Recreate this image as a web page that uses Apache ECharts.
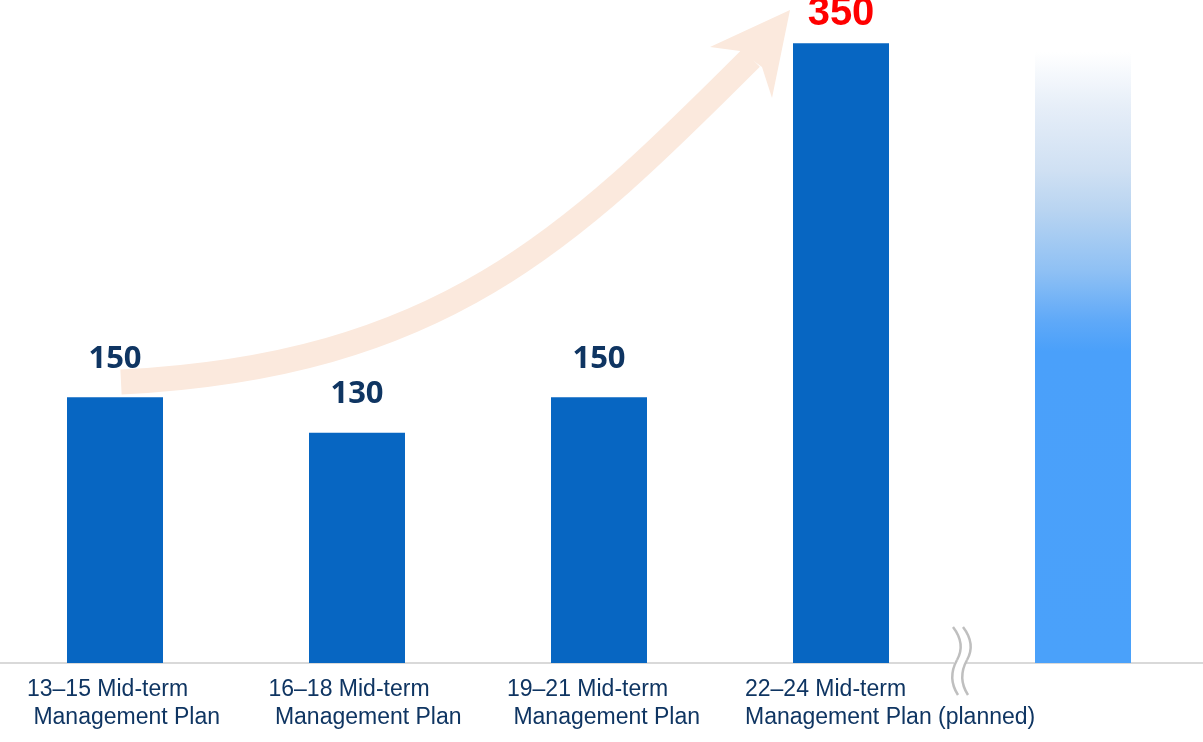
<!DOCTYPE html>
<html>
<head>
<meta charset="utf-8">
<script src="https://cdn.jsdelivr.net/npm/echarts@6/dist/echarts.min.js"></script>
<style>
html,body{margin:0;padding:0;background:#fff;}
#chart{width:1203px;height:742px;}
</style>
</head>
<body>
<div id="chart"></div>
<script>
// ---- data ----
var categories = [
  '13–15 Mid-term\n Management Plan',
  '16–18 Mid-term\n Management Plan',
  '19–21 Mid-term\n Management Plan',
  '22–24 Mid-term\nManagement Plan (planned)',
  ''
];
var planValues = [150, 130, 150, 350];
var futureValue = 345;           // faded bar beyond the axis break
var labelBoxWidths = [176, 177, 184, 192, 100];

var navy = '#0F3562';
var barBlue = '#0766C2';

var seriesData = planValues.map(function (v, i) {
  var item = { value: v };
  if (i === planValues.length - 1) {
    item.label = {
      color: '#FF0000',
      fontFamily: '"Liberation Sans", Arial, sans-serif',
      fontSize: 40,
      fontWeight: 'bold',
      distance: 9
    };
  }
  return item;
});
seriesData.push({
  value: futureValue,
  label: { show: false },
  itemStyle: {
    color: {
      type: 'linear', x: 0, y: 0, x2: 0, y2: 1,
      colorStops: [
        { offset: 0, color: '#FFFFFF' },
        { offset: 0.09, color: '#E6EEF8' },
        { offset: 0.195, color: '#CFE0F3' },
        { offset: 0.26, color: '#B8D4F1' },
        { offset: 0.36, color: '#8EC0F4' },
        { offset: 0.44, color: '#5FA9F8' },
        { offset: 0.49, color: '#4AA0FA' },
        { offset: 1, color: '#4AA1FA' }
      ]
    }
  }
});

var rich = {};
labelBoxWidths.forEach(function (w, i) {
  rich['w' + i] = {
    width: w,
    align: 'left',
    fontFamily: '"Liberation Sans", Arial, sans-serif',
    fontSize: 23,
    lineHeight: 28,
    color: navy
  };
});

function breakLine(dx) {
  var st = { fill: null, stroke: '#BFBFBF', lineWidth: 2.5 };
  return [
    { type: 'bezierCurve', z: 21, silent: true,
      shape: { x1: 953 + dx, y1: 627, cpx1: 966 + dx, cpy1: 644, x2: 957 + dx, y2: 660 }, style: st },
    { type: 'bezierCurve', z: 21, silent: true,
      shape: { x1: 957 + dx, y1: 660, cpx1: 947 + dx, cpy1: 678, x2: 958 + dx, y2: 695 }, style: st }
  ];
}

var chart = echarts.init(document.getElementById('chart'), null, { renderer: 'canvas' });

var graphics = [
  {
    type: 'bezierCurve', z: 1, silent: true,
    shape: { x1: 121, y1: 382, cpx1: 441, cpy1: 366, cpx2: 571, cpy2: 238, x2: 751, y2: 58 },
    style: { fill: null, stroke: '#FBE9DD', lineWidth: 25, lineCap: 'butt' }
  },
  {
    type: 'polygon', z: 1, silent: true,
    shape: { points: [[790, 10], [710, 47], [740, 51], [762, 67], [772, 98]] },
    style: { fill: '#FBE9DD' }
  },
  {
    type: 'rect', z: 20, silent: true,
    shape: { x: 954, y: 659, width: 12, height: 9 },
    style: { fill: '#ffffff' }
  }
].concat(breakLine(0), breakLine(10));

var option = {
  animation: false,
  backgroundColor: '#ffffff',
  grid: { left: -6, right: -1, top: 29, bottom: 79, containLabel: false, outerBoundsMode: 'none' },
  xAxis: {
    type: 'category',
    data: categories,
    axisTick: { show: false },
    axisLine: { show: true, lineStyle: { color: '#D9D9D9', width: 2 } },
    axisLabel: {
      interval: 0,
      margin: 13,
      align: 'center',
      formatter: function (val, idx) {
        if (!val) return '';
        return val.split('\n').map(function (l) {
          return '{w' + idx + '|' + l + '}';
        }).join('\n');
      },
      rich: rich
    }
  },
  yAxis: {
    type: 'value',
    min: 0,
    max: 358,
    show: false,
    splitLine: { show: false }
  },
  series: [{
    type: 'bar',
    barWidth: 96,
    z: 3,
    itemStyle: { color: barBlue },
    label: {
      show: true,
      position: 'top',
      distance: 23,
      color: navy,
      fontFamily: '"Noto Sans", sans-serif',
      fontWeight: 'bold',
      fontSize: 31
    },
    data: seriesData
  }],
  graphic: graphics
};

chart.setOption(option);
</script>
</body>
</html>
